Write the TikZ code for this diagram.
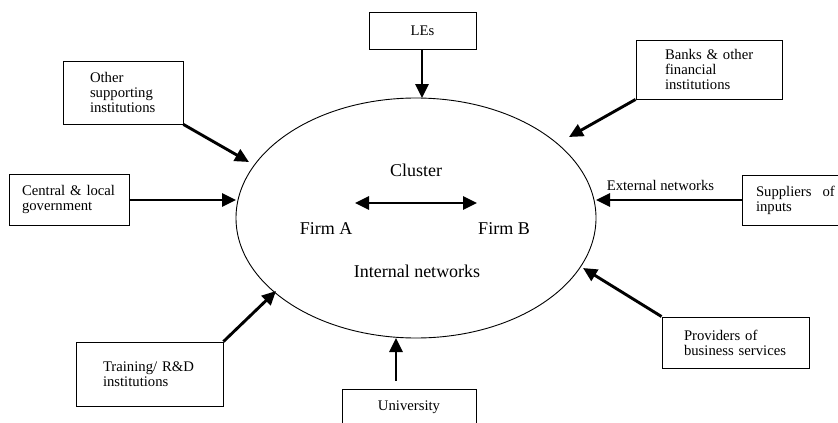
\documentclass[tikz,border=0pt]{standalone}
\usepackage{fontspec}
\setmainfont{Liberation Serif}
\usetikzlibrary{shapes.geometric,arrows.meta,calc}
\begin{document}
\begin{tikzpicture}[x=1pt,y=-1pt,
  box/.style={draw,line width=0.9pt,rectangle,inner ysep=0pt,font=\fontsize{14.7}{15}\selectfont,align=left},
  arr/.style={line width=2.9pt,-{Triangle[length=14pt,width=13pt]}},
  dbl/.style={line width=2.9pt,{Triangle[length=14pt,width=13pt]}-{Triangle[length=14pt,width=13pt]}},
  intext/.style={font=\fontsize{18}{20}\selectfont,inner sep=0pt},
  lbl/.style={font=\fontsize{14.7}{15}\selectfont,inner sep=0pt}]
\useasboundingbox (0,0) rectangle (838,423);
\begin{scope}
\clip (0,0) rectangle (838,423);
% cluster ellipse
\node[draw, ellipse, line width=0.9pt, minimum width=360pt, minimum height=240pt, inner sep=0pt] (cl) at (416,218) {};
\node[intext] (cluster) at (416,170) {Cluster};
\node[intext] (firma) at (326,229) {Firm A};
\node[intext] (firmb) at (504,229) {Firm B};
\node[intext] (intnet) at (417,271) {Internal networks};
\coordinate (da1) at (355,203);
\coordinate (da2) at (477,203);
\draw[dbl] (da1) -- (da2);
% boxes
\node[box, minimum width=107pt, minimum height=37pt, align=center] (les) at (422.5,30.5) {LEs};
\node[box, minimum width=120pt, minimum height=63pt, text width=66pt, inner xsep=27pt] (oth) at (123,92.5) {\mbox{Other}\\\mbox{supporting}\\\mbox{institutions}};
\node[box, minimum width=120pt, minimum height=51pt, text width=94pt, inner xsep=13pt] (cen) at (69,199.5) {\mbox{Central \& local}\\\mbox{government}};
\node[box, minimum width=146pt, minimum height=59pt, text width=88pt, inner xsep=29pt] (ban) at (709,69.5) {\mbox{Banks \& other}\\\mbox{financial}\\\mbox{institutions}};
\node[box, minimum width=120pt, minimum height=50pt, text width=92pt, inner xsep=14pt] (sup) at (802,200) {\mbox{Suppliers\hspace{11pt}of}\\\mbox{inputs}};
\node[box, minimum width=147pt, minimum height=51pt, text width=103pt, inner xsep=22pt] (pro) at (735.5,342.5) {\mbox{Providers of}\\\mbox{business services}};
\node[box, minimum width=134pt, minimum height=36pt, align=center] (uni) at (409,407) {University};
\node[box, minimum width=147pt, minimum height=64pt, text width=93pt, inner xsep=27pt] (tra) at (149.5,374) {\mbox{Training/ R\&D}\\\mbox{institutions}};
\node[lbl] (extnet) at (660.5,185) {External networks};
% arrow tips on the cluster border
\coordinate (tles) at (422,98);
\coordinate (toth) at (249,162);
\coordinate (tcen) at (236,200);
\coordinate (tban) at (569,137);
\coordinate (tsup) at (596,200);
\coordinate (tpro) at (583,268);
\coordinate (tuni) at (396,338);
\coordinate (ttra) at (276,291);
% connectors
\draw[arr] (les.south -| tles) -- (tles);
\draw[arr] (oth.south east) -- (toth);
\draw[arr] (cen.east |- tcen) -- (tcen);
\draw[arr] (ban.south west) -- (tban);
\draw[arr] (sup.west |- tsup) -- (tsup);
\draw[arr] (pro.north west) -- (tpro);
\draw[arr] ($(uni.north -| tuni)+(0,-8)$) -- (tuni);
\draw[arr] (tra.north east) -- (ttra);
\end{scope}
\end{tikzpicture}
\end{document}
